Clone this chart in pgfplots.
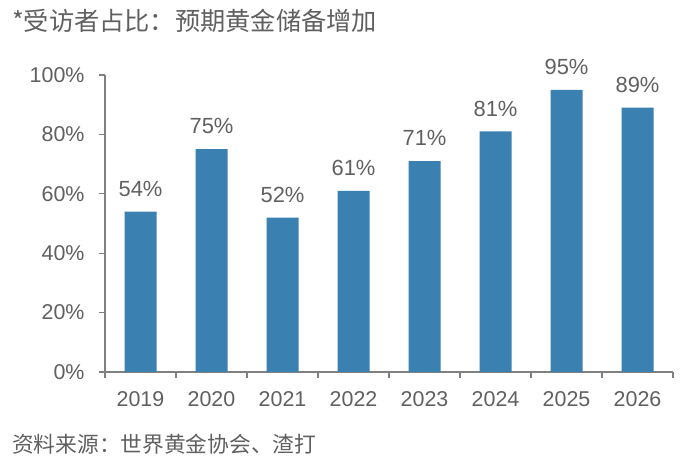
\documentclass[border=0pt]{standalone}
\usepackage{pgfplots}
\pgfplotsset{compat=1.18}
\usepackage{fontspec}
\setmainfont{Liberation Sans}
\newfontfamily\cjk{Noto Sans CJK SC}
\definecolor{barblue}{RGB}{58,128,176}
\definecolor{txtgray}{RGB}{96,96,96}
\definecolor{axgray}{RGB}{128,128,128}
\begin{document}
\begin{tikzpicture}[x=1bp,y=1bp]
\path[use as bounding box] (0,0) rectangle (686,472);
\node[anchor=base west, font=\cjk\fontsize{25.3}{28}\selectfont, text=txtgray, inner sep=0pt] at (12,441) {*受访者占比：预期黄金储备增加};
\node[anchor=base west, font=\cjk\fontsize{21.8}{24}\selectfont, text=txtgray, inner sep=0pt] at (12,19) {资料来源：世界黄金协会、渣打};
\begin{axis}[
  at={(105bp,100bp)}, anchor=south west,
  scale only axis, width=568bp, height=297bp,
  xmin=-0.5, xmax=7.5, ymin=0, ymax=100,
  axis lines*=left,
  axis line style={draw=axgray, line width=1.3bp},
  every tick/.style={draw=axgray, line width=1.3bp},
  tick align=outside,
  major tick length=6bp, minor tick length=6bp,
  ytick={0,20,...,100},
  yticklabel={\pgfmathprintnumber{\tick}\%},
  yticklabel style={xshift=-11bp},
  xtick={0,...,7},
  xticklabels={2019,2020,2021,2022,2023,2024,2025,2026},
  xticklabel style={yshift=-10bp},
  major x tick style={draw=none},
  minor xtick={-0.5,0.5,...,7.5},
  /pgf/number format/assume math mode=true,
  ticklabel style={font=\fontsize{21.5}{24}\selectfont, text=txtgray},
  ybar, bar width=32bp,
  nodes near coords={\pgfmathprintnumber{\pgfplotspointmeta}\%},
  nodes near coords style={font=\fontsize{22}{24}\selectfont, text=txtgray, anchor=south, inner sep=0pt, yshift=15bp},
  clip=false,
]
\addplot[fill=barblue, draw=none] coordinates {(0,54) (1,75) (2,52) (3,61) (4,71) (5,81) (6,95) (7,89)};
\end{axis}
\end{tikzpicture}
\end{document}
